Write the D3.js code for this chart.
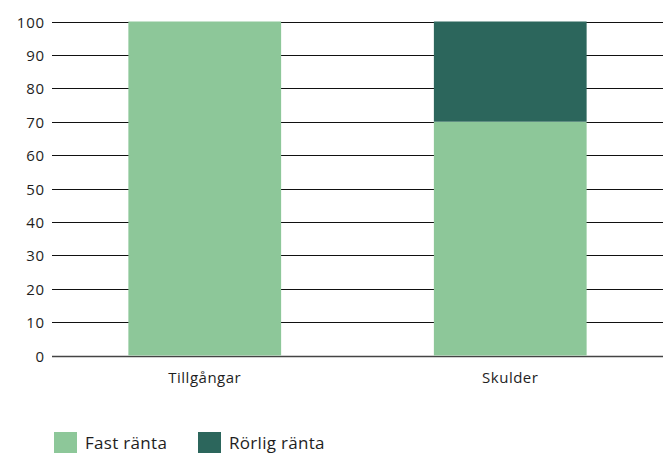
<!DOCTYPE html>
<html>
<head>
<meta charset="utf-8">
<script src="https://cdn.jsdelivr.net/npm/d3@7"></script>
<style>
  body { margin: 0; background: #fff; }
  text { font-family: "Open Sans", "DejaVu Sans", sans-serif; fill: #1e1e1e; }
</style>
</head>
<body>
<svg id="chart"></svg>
<script>
const W = 668, H = 453;

// data
const categories = ["Tillgångar", "Skulder"];
const fastRanta = [100, 70];
const rorligRanta = [0, 30];
const seriesNames = ["Fast ränta", "Rörlig ränta"];
const colors = ["#8dc799", "#2c665c"];
const yTicks = [0, 10, 20, 30, 40, 50, 60, 70, 80, 90, 100];

const svg = d3.select("#chart").attr("width", W).attr("height", H);

const margin = { left: 52, right: 5, top: 21.5, bottom: 97.5 };

const x = d3.scaleBand()
  .domain(categories)
  .range([margin.left, W - margin.right])
  .paddingInner(0.5)
  .paddingOuter(0.25);

const y = d3.scaleLinear()
  .domain([0, 100])
  .range([H - margin.bottom, margin.top]);

// gridlines
svg.append("g")
  .selectAll("line")
  .data(yTicks)
  .enter()
  .append("line")
    .attr("x1", margin.left)
    .attr("x2", W - margin.right)
    .attr("y1", d => Math.round(y(d)) + 0.5)
    .attr("y2", d => Math.round(y(d)) + 0.5)
    .attr("stroke", d => d === 0 ? "#444" : "#111")
    .attr("stroke-width", d => d === 0 ? 1.5 : 1);

// y labels
svg.append("g")
  .selectAll("text")
  .data(yTicks)
  .enter()
  .append("text")
    .attr("x", 45)
    .attr("y", d => Math.round(y(d)) + 0.5)
    .attr("dy", "0.35em")
    .attr("text-anchor", "end")
    .style("font-size", "15px")
    .style("letter-spacing", "0.8px")
    .text(d => d);

// stacked bars
const rows = categories.map((c, i) => ({ cat: c, fast: fastRanta[i], rorlig: rorligRanta[i] }));
const stack = d3.stack().keys(["fast", "rorlig"])(rows);

svg.append("g")
  .selectAll("g")
  .data(stack)
  .enter()
  .append("g")
    .attr("fill", (d, i) => colors[i])
  .selectAll("rect")
  .data(d => d)
  .enter()
  .append("rect")
    .attr("x", d => x(d.data.cat))
    .attr("width", x.bandwidth())
    .attr("y", d => y(d[1]))
    .attr("height", d => y(d[0]) - y(d[1]));

// category labels
svg.append("g")
  .selectAll("text")
  .data(categories)
  .enter()
  .append("text")
    .attr("x", d => x(d) + x.bandwidth() / 2)
    .attr("y", 383)
    .attr("text-anchor", "middle")
    .style("font-size", "15px")
    .style("letter-spacing", "0.5px")
    .text(d => d);

// legend
const legend = svg.append("g").attr("transform", "translate(54,432)");
const legX = [0, 144];
seriesNames.forEach((name, i) => {
  legend.append("rect")
    .attr("x", legX[i])
    .attr("y", 0)
    .attr("width", 23)
    .attr("height", 21)
    .attr("fill", colors[i]);
  legend.append("text")
    .attr("x", legX[i] + 31)
    .attr("y", 17)
    .style("font-size", "17px")
    .style("letter-spacing", "0.3px")
    .text(name);
});
</script>
</body>
</html>
